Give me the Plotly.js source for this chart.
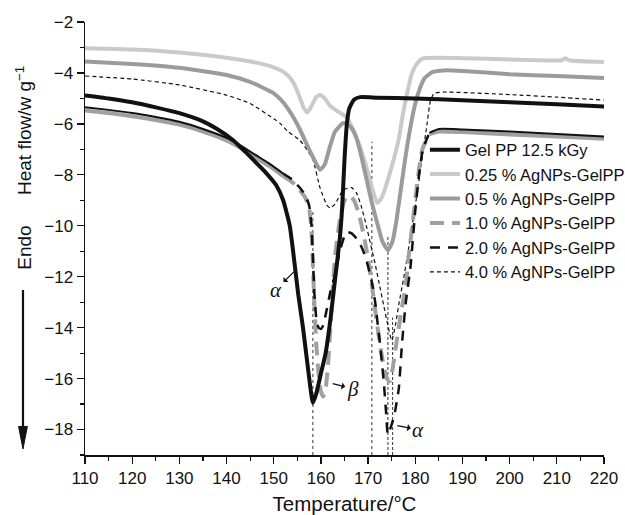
<!DOCTYPE html>
<html><head><meta charset="utf-8">
<script src="https://cdn.plot.ly/plotly-3.0.1.min.js"></script>
<style>html,body{margin:0;padding:0;background:#fff}#chart{width:625px;height:515px}</style>
</head><body><div id="chart"></div>
<script>
// ---- data ----
const seriesNames = ["Gel PP 12.5 kGy","0.25 % AgNPs-GelPP","0.5 % AgNPs-GelPP","1.0 % AgNPs-GelPP","2.0 % AgNPs-GelPP","4.0 % AgNPs-GelPP"];

const gelT = [110,115,120,125,130,135,138,141.4,144,146.4,148.5,150.5,152,153.4,154.3,155.2,156.2,157,157.8,158.3,159,160,161,162,163,164,164.5,165,165.5,166,167,168.3,172,180,190,200,210,220];
const gelH = [-4.88,-5.0,-5.15,-5.35,-5.58,-5.9,-6.2,-6.64,-7.1,-7.55,-7.95,-8.4,-9.0,-10.0,-11.3,-12.7,-14.0,-15.2,-16.4,-16.95,-16.6,-15.8,-15.0,-13.7,-12.1,-10.5,-9.3,-7.4,-6.0,-5.4,-5.05,-4.95,-4.97,-5.0,-5.07,-5.15,-5.23,-5.32];

const p25T = [110,120,130,140,145,150,152,153.5,154.5,155.5,156.3,157.1,158,159,159.8,160.8,162,163.5,165.5,166.8,168.3,169.5,170.4,171.3,171.9,172.7,173.5,174.5,175.5,176.5,177.4,178.4,179.3,180.5,181.6,185,190,200,211,211.8,212.6,220];
const p25H = [-3.03,-3.08,-3.2,-3.4,-3.55,-3.78,-3.95,-4.2,-4.5,-4.95,-5.35,-5.55,-5.3,-4.95,-4.87,-5.0,-5.3,-5.5,-5.75,-6.2,-6.9,-7.6,-8.2,-8.8,-9.1,-8.95,-8.6,-8.0,-7.35,-6.6,-5.6,-4.7,-4.0,-3.6,-3.43,-3.4,-3.42,-3.47,-3.5,-3.42,-3.5,-3.57];

const p5T = [110,120,130,140,145,150,151.5,153,154.5,155.6,157,158.3,159.8,160.8,161.9,163,164.7,165.6,166.6,167.6,168.6,169.7,170.8,171.8,173,174.2,175.2,176,177,178,178.9,180,181,182,183.7,186,190,200,210,220];
const p5H = [-3.55,-3.65,-3.8,-4.08,-4.35,-4.8,-5.05,-5.4,-5.85,-6.24,-6.8,-7.3,-7.8,-7.6,-6.9,-6.3,-5.97,-6.0,-6.2,-6.6,-7.3,-8.2,-9.1,-9.8,-10.6,-10.96,-10.6,-9.8,-8.5,-7.2,-6.2,-5.2,-4.6,-4.2,-3.96,-3.9,-3.92,-4.05,-4.12,-4.2];

const p10T = [110,115,120,125,130,135,140,143,146.4,149,152,154,155.5,156.7,157.5,158,158.3,158.6,159,159.5,160,160.5,161,161.5,162,162.5,163,164,165,166,167,168,169,170,171,172,173,174,174.6,175.2,176,177,178,178.6,179.5,180.5,181.5,183,185,190,200,210,220];
const p10H = [-5.47,-5.57,-5.7,-5.85,-6.03,-6.3,-6.65,-6.95,-7.35,-7.65,-8.05,-8.3,-8.6,-8.9,-9.3,-10.2,-11.5,-13.0,-14.6,-15.8,-16.5,-16.7,-16.4,-15.5,-14.0,-12.5,-11.2,-9.8,-9.0,-8.8,-9.0,-9.5,-10.3,-11.3,-12.6,-14.0,-15.2,-16.0,-16.1,-15.6,-14.6,-13.4,-12.3,-11.2,-9.8,-8.2,-7.0,-6.4,-6.3,-6.32,-6.42,-6.5,-6.58];

const p20T = [110,115,120,125,130,135,140,143,146.4,149,152,154,155.5,156.7,157.5,158,158.3,158.6,159,159.5,160,160.5,161,162,163,164,165,165.6,166.5,168,169,170,171,171.5,172,172.5,173,173.4,173.8,174.2,175,175.6,176.5,177.2,178,179,180,180.8,181.6,183,185,190,200,210,220];
const p20H = [-5.35,-5.45,-5.57,-5.73,-5.92,-6.2,-6.55,-6.85,-7.25,-7.55,-7.95,-8.2,-8.5,-8.8,-9.2,-10.0,-11.2,-12.6,-13.6,-14.0,-14.05,-13.9,-13.5,-12.6,-11.9,-11.0,-10.4,-10.25,-10.3,-10.6,-11.0,-11.6,-12.4,-13.0,-13.8,-14.6,-15.5,-16.3,-17.3,-18.2,-17.8,-17.4,-16.4,-14.6,-13.0,-11.6,-9.4,-8.0,-7.0,-6.35,-6.2,-6.22,-6.3,-6.4,-6.5];

const p40T = [110,120,130,140,145,150,151.3,153,155.5,157,158.3,159.8,161.3,162,163,164.7,166.5,167.5,168.5,169.5,170.5,171.5,172.5,173.5,174.3,175,175.8,176.5,177.5,178.5,179.5,180.5,181.5,182.5,183.2,184,186,200,210,220];
const p40H = [-4.12,-4.24,-4.47,-4.87,-5.2,-5.8,-5.97,-6.3,-6.64,-7.0,-7.4,-8.5,-9.2,-9.3,-9.15,-8.6,-8.5,-8.7,-9.2,-9.9,-10.7,-11.5,-12.4,-13.3,-14.0,-14.5,-13.9,-13.1,-12.1,-11.0,-9.8,-8.6,-7.3,-6.0,-5.1,-4.8,-4.75,-4.85,-4.95,-5.07];

// reference lines at peak temperatures (T, top value)
const vlineT = [158.3, 170.8, 174.2, 175.2];
const vlineTop = [-9.4, -6.7, -10.4, -13.6];
const vlineDash = ["dot", "dot", "3px,2px", "3px,2px"];

// peak labels: [label, pointerT, pointerH, labelOffsetX(px), labelOffsetY(px)]
const peakLabels = [
  ["α", 154.3, -11.8, -18, 18],
  ["β", 162.5, -16.2, 20, 5],
  ["α", 176.2, -17.85, 21, 4]
];

const xTicks = [110,120,130,140,150,160,170,180,190,200,210,220];
const yTicks = [-18,-16,-14,-12,-10,-8,-6,-4,-2];

// ---- helpers ----
function part(xs, ys, lo, hi) {
  const px = [], py = [];
  xs.forEach((v, i) => { if (v >= lo && v <= hi) { px.push(v); py.push(ys[i]); } });
  return {x: px, y: py};
}
const FONT = "Liberation Sans, Arial, sans-serif";
const SH = 'spline', SM = 0.5;

const traces = [];
// 4.0 % thin dashed
traces.push({x: p40T, y: p40H, name: seriesNames[5], mode: 'lines', legendrank: 6,
  line: {color: '#111', width: 1.2, dash: '4px,3px', shape: SH, smoothing: SM}});
// 0.25 %
traces.push({x: p25T, y: p25H, name: seriesNames[1], mode: 'lines', legendrank: 2,
  line: {color: '#cacaca', width: 4, shape: SH, smoothing: SM}});
// 0.5 %
traces.push({x: p5T, y: p5H, name: seriesNames[2], mode: 'lines', legendrank: 3,
  line: {color: '#9b9b9b', width: 4, shape: SH, smoothing: SM}});
// 1.0 % : solid-looking in flat parts, dashed in the melting range
let a = part(p10T, p10H, 110, 153.4);
traces.push({x: a.x, y: a.y, mode: 'lines', showlegend: false, legendgroup: 'g10',
  line: {color: '#a0a0a0', width: 4, shape: SH, smoothing: SM}});
a = part(p10T, p10H, 152, 183);
traces.push({x: a.x, y: a.y, name: seriesNames[3], mode: 'lines', legendrank: 4, legendgroup: 'g10',
  line: {color: '#a0a0a0', width: 4, dash: '14px,8px', shape: SH, smoothing: SM}});
a = part(p10T, p10H, 183, 220);
traces.push({x: a.x, y: a.y, mode: 'lines', showlegend: false, legendgroup: 'g10',
  line: {color: '#a0a0a0', width: 4, shape: SH, smoothing: SM}});
// 2.0 %
a = part(p20T, p20H, 110, 153.4);
traces.push({x: a.x, y: a.y, mode: 'lines', showlegend: false, legendgroup: 'g20',
  line: {color: '#111', width: 2, shape: SH, smoothing: SM}});
a = part(p20T, p20H, 152, 183);
traces.push({x: a.x, y: a.y, name: seriesNames[4], mode: 'lines', legendrank: 5, legendgroup: 'g20',
  line: {color: '#111', width: 2.5, dash: '10px,8px', shape: SH, smoothing: SM}});
a = part(p20T, p20H, 183, 220);
traces.push({x: a.x, y: a.y, mode: 'lines', showlegend: false, legendgroup: 'g20',
  line: {color: '#111', width: 2, shape: SH, smoothing: SM}});
// Gel PP
traces.push({x: gelT, y: gelH, name: seriesNames[0], mode: 'lines', legendrank: 1,
  line: {color: '#111', width: 4, shape: SH, smoothing: SM}});

const shapes = vlineT.map((t, i) => ({type: 'line', xref: 'x', yref: 'y', x0: t, x1: t, y0: -19, y1: vlineTop[i],
  line: {color: '#333', width: 1, dash: vlineDash[i]}, layer: 'below'}));

// "Endo" arrow (paper coordinates, left of the axis)
const ex = -0.1195, hw = 0.0085;
shapes.push({type: 'line', xref: 'paper', yref: 'paper', x0: ex, x1: ex, y0: 0.381, y1: 0.06,
  line: {color: '#111', width: 2.2}});
shapes.push({type: 'path', xref: 'paper', yref: 'paper',
  path: `M ${ex - hw} 0.066 L ${ex + hw} 0.066 L ${ex} 0.0139 Z`, fillcolor: '#111', line: {color: '#111', width: 1}});

const annotations = [];
peakLabels.forEach(p => {
  annotations.push({x: p[1], y: p[2], xref: 'x', yref: 'y', text: p[0], showarrow: true,
    ax: p[3], ay: p[4], arrowside: 'start', arrowhead: 2, arrowsize: 1, arrowwidth: 1.2, arrowcolor: '#111',
    font: {family: 'Liberation Serif, serif', size: 21, style: 'italic', color: '#111'}});
});
// y-axis title placed high, as in the reference
annotations.push({xref: 'paper', yref: 'paper', x: -0.118, y: 0.75, text: 'Heat flow/w g<sup>−1</sup>',
  textangle: -90, showarrow: false, font: {family: FONT, size: 19, color: '#111'}, xanchor: 'center', yanchor: 'middle'});
annotations.push({xref: 'paper', yref: 'paper', x: -0.118, y: 0.478, text: 'Endo',
  textangle: -90, showarrow: false, font: {family: FONT, size: 19, color: '#111'}, xanchor: 'center', yanchor: 'middle'});

const layout = {
  width: 625, height: 515,
  margin: {l: 85, r: 21, t: 22, b: 60, autoexpand: false},
  paper_bgcolor: '#fff', plot_bgcolor: '#fff',
  font: {family: FONT, size: 17, color: '#111'},
  showlegend: true,
  legend: {x: 0.655, y: 0.745, xanchor: 'left', yanchor: 'top', bgcolor: 'rgba(0,0,0,0)',
    font: {family: FONT, size: 16.5, color: '#111'}, itemwidth: 30, tracegroupgap: 0, traceorder: 'normal'},
  xaxis: {range: [110, 220], tickvals: xTicks, ticks: 'outside', ticklen: 7, tickwidth: 1.3, tickcolor: '#111',
    showline: true, linecolor: '#111', linewidth: 1.5, showgrid: false, zeroline: false, automargin: false,
    minor: {dtick: 5, ticks: 'outside', ticklen: 4, tickwidth: 1.2, tickcolor: '#111', showgrid: false},
    tickfont: {family: FONT, size: 17, color: '#111'},
    title: {text: 'Temperature/°C', standoff: 12, font: {family: FONT, size: 20.5, color: '#111'}}},
  yaxis: {range: [-19, -2], tickvals: yTicks, ticks: 'outside', ticklen: 7, tickwidth: 1.3, tickcolor: '#111',
    showline: true, linecolor: '#111', linewidth: 1.5, showgrid: false, zeroline: false, automargin: false,
    minor: {dtick: 1, ticks: 'outside', ticklen: 4, tickwidth: 1.2, tickcolor: '#111', showgrid: false},
    tickfont: {family: FONT, size: 17, color: '#111'}},
  shapes: shapes,
  annotations: annotations
};

Plotly.newPlot('chart', traces, layout, {displayModeBar: false, staticPlot: true});
</script>
</body></html>
